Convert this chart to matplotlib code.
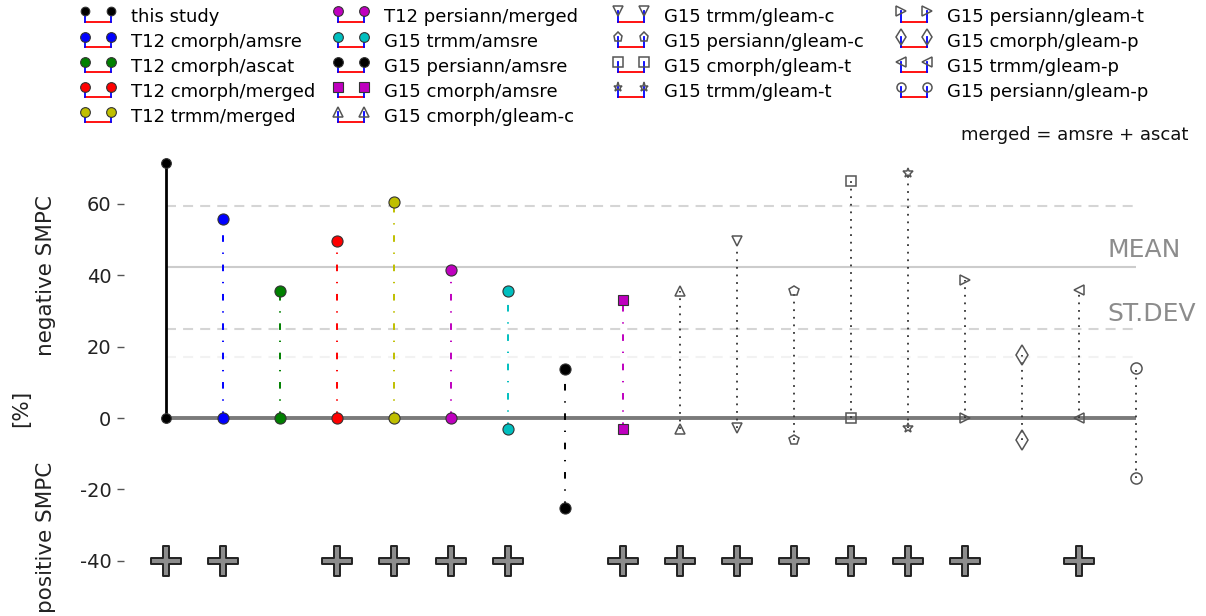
import numpy as np
import matplotlib
matplotlib.use("Agg")
import matplotlib.pyplot as plt
from matplotlib.lines import Line2D
from matplotlib.legend_handler import HandlerBase
from matplotlib.path import Path

plt.rcParams['font.family'] = ['DejaVu Sans']
plt.rcParams['axes.unicode_minus'] = False

# ---------------- data ----------------
labels = ["this study", "T12 cmorph/amsre", "T12 cmorph/ascat", "T12 cmorph/merged",
          "T12 trmm/merged", "T12 persiann/merged", "G15 trmm/amsre", "G15 persiann/amsre",
          "G15 cmorph/amsre", "G15 cmorph/gleam-c", "G15 trmm/gleam-c", "G15 persiann/gleam-c",
          "G15 cmorph/gleam-t", "G15 trmm/gleam-t", "G15 persiann/gleam-t", "G15 cmorph/gleam-p",
          "G15 trmm/gleam-p", "G15 persiann/gleam-p"]
negative_smpc = [71.5, 55.8, 35.6, 49.6, 60.6, 41.5, 35.6, 13.7, 33.1, 35.6,
                 49.6, 35.6, 66.4, 68.7, 38.7, 17.7, 35.9, 14.0]
positive_smpc = [0, 0, 0, 0, 0, 0, -3.1, -25.2, -3.1, -3.0,
                 -2.8, -6.2, 0, -2.8, 0, -6.2, 0, -16.8]
significant = [1, 1, 0, 1, 1, 1, 1, 0, 1, 1, 1, 1, 1, 1, 1, 0, 1, 0]
yticks = [60, 40, 20, 0, -20, -40]
sig_level = -40

# ---------------- styles ----------------
face_colors = ['#000000', '#0000ff', '#008000', '#ff0000', '#bfbf00', '#bf00bf',
               '#00bfbf', '#000000', '#bf00bf'] + ['none'] * 9
stem_colors = ['#000000', '#0000ff', '#008000', '#ff0000', '#bfbf00', '#bf00bf',
               '#00bfbf', '#000000', '#bf00bf'] + ['#333333'] * 9
marker_shapes = ['o'] * 8 + ['s', '^', 'v', 'p', 's', '*', '>', 'd', '<', 'o']
marker_sizes = [7] + [8] * 7 + [7.5, 7.5, 7.5, 7.5, 7.5, 7.5, 7.5, 10, 7.5, 8]
legend_sizes = [6.2] + [7] * 7 + [6.5, 6.5, 6.5, 6.5, 6.5, 6.5, 6.5, 8, 6.5, 6.5]
dashdot = (0, (3.4, 5.5, 0.7, 5.5))
dotted = (0, (1, 3.2))
stem_styles = ['solid'] + [dashdot] * 8 + [dotted] * 9
stem_widths = [2.0] + [1.4] * 8 + [1.3] * 9

W, H = 1206, 616
fig = plt.figure(figsize=(W / 100, H / 100), dpi=100)
ax = fig.add_axes([124 / W, 6 / H, 1076 / W, 460 / H])
ax.set_xlim(-0.736, 18.12)
ax.set_ylim(-53.8, 75.1)

x = np.arange(len(labels))
n = len(labels)

mean = np.mean(negative_smpc)
std = np.std(negative_smpc)

# reference lines
ax.hlines(mean, 0, n - 1, color='#cccccc', lw=1.5, zorder=1)
ax.hlines([mean + std, mean - std], 0, n - 1, color='#d5d5d5', lw=1.5,
          linestyles=[(0, (4.8, 3.4))], zorder=1)
ax.hlines(std, 0, n - 1, color='#f2f2f2', lw=1.5, linestyles=[(0, (4.8, 3.4))], zorder=1)
ax.hlines(0, 0, n - 1, color='#7a7a7a', lw=2.8, zorder=1.5)

ax.text(16.5, mean + 5, 'MEAN', fontsize=18, color='#8c8c8c', va='center', ha='left')
ax.text(16.5, mean - std + 4.2, 'ST.DEV', fontsize=18, color='#8c8c8c', va='center', ha='left')

# stems + markers
proxies = []
for i in range(n):
    ax.vlines(x[i], positive_smpc[i], negative_smpc[i], colors=stem_colors[i],
              linestyles=[stem_styles[i]], lw=stem_widths[i], zorder=2)
    hollow = face_colors[i] == 'none'
    mec = '#555555' if hollow else '#333333'
    mew = 1.1 if hollow else 0.8
    ax.plot([x[i], x[i]], [positive_smpc[i], negative_smpc[i]], ls='none',
            marker=marker_shapes[i], ms=marker_sizes[i], mfc=face_colors[i],
            mec=mec, mew=mew, zorder=3)
    proxies.append(Line2D([], [], ls='none', marker=marker_shapes[i],
                          ms=legend_sizes[i], mfc=face_colors[i], mec=mec, mew=mew))

# significance pluses
t = 0.2
plus_path = Path([(-t, 1), (t, 1), (t, t), (1, t), (1, -t), (t, -t), (t, -1), (-t, -1),
                  (-t, -t), (-1, -t), (-1, t), (-t, t), (-t, 1)], closed=True)
sig_x = x[np.array(significant) == 1]
ax.plot(sig_x, [sig_level] * len(sig_x), ls='none', marker=plus_path, ms=21.6,
        mfc='#8c8c8c', mec='#222222', mew=1.4, zorder=3)

# axes styling
for s in ax.spines.values():
    s.set_visible(False)
ax.set_xticks([])
ax.set_yticks(yticks)
ax.set_yticklabels([str(v) for v in yticks])
ax.tick_params(axis='y', direction='out', length=5, width=1, color='#555555',
               labelsize=14, labelcolor='#222222', pad=4)

# y labels
fig.text(46 / W, 1 - 276 / H, 'negative SMPC', rotation=90, fontsize=15.5,
         ha='center', va='center', color='#222222')
fig.text(46 / W, 1 - 537 / H, 'positive SMPC', rotation=90, fontsize=15.5,
         ha='center', va='center', color='#222222')
fig.text(21 / W, 1 - 408 / H, '[%]', rotation=90, fontsize=15.5,
         ha='center', va='center', color='#222222')
fig.text(1188 / W, 1 - 135 / H, 'merged = amsre + ascat', fontsize=13,
         ha='right', va='center', color='#111111')


# legend with stem-like handles
class StemHandler(HandlerBase):
    def create_artists(self, legend, orig, xdescent, ydescent, width, height, fontsize, trans):
        x0 = -xdescent
        y0 = -ydescent
        xl = x0 + 0.12 * width
        xr = x0 + 0.88 * width
        ym = y0 + 0.8 * height
        base = Line2D([xl, xr], [y0, y0], color='red', lw=1.3)
        s1 = Line2D([xl, xl], [y0, ym], color='blue', lw=1.3)
        s2 = Line2D([xr, xr], [y0, ym], color='blue', lw=1.3)
        mk = Line2D([xl, xr], [ym, ym], ls='none', marker=orig.get_marker(),
                    ms=orig.get_markersize(), mfc=orig.get_markerfacecolor(),
                    mec=orig.get_markeredgecolor(), mew=orig.get_markeredgewidth())
        arts = [base, s1, s2, mk]
        for a in arts:
            a.set_transform(trans)
        return arts


col_rows = [(0, 5), (5, 10), (10, 14), (14, 18)]
col_x = [81, 334, 614, 897]
for (a, b), cx in zip(col_rows, col_x):
    leg = fig.legend(proxies[a:b], labels[a:b], loc='upper left',
                     bbox_to_anchor=(cx / W, 1 - 7.5 / H), frameon=False,
                     fontsize=13, handler_map={Line2D: StemHandler()},
                     handlelength=1.88, handletextpad=0.886, labelspacing=0.4,
                     borderpad=0, borderaxespad=0)

fig.savefig('out.png', dpi=100)
